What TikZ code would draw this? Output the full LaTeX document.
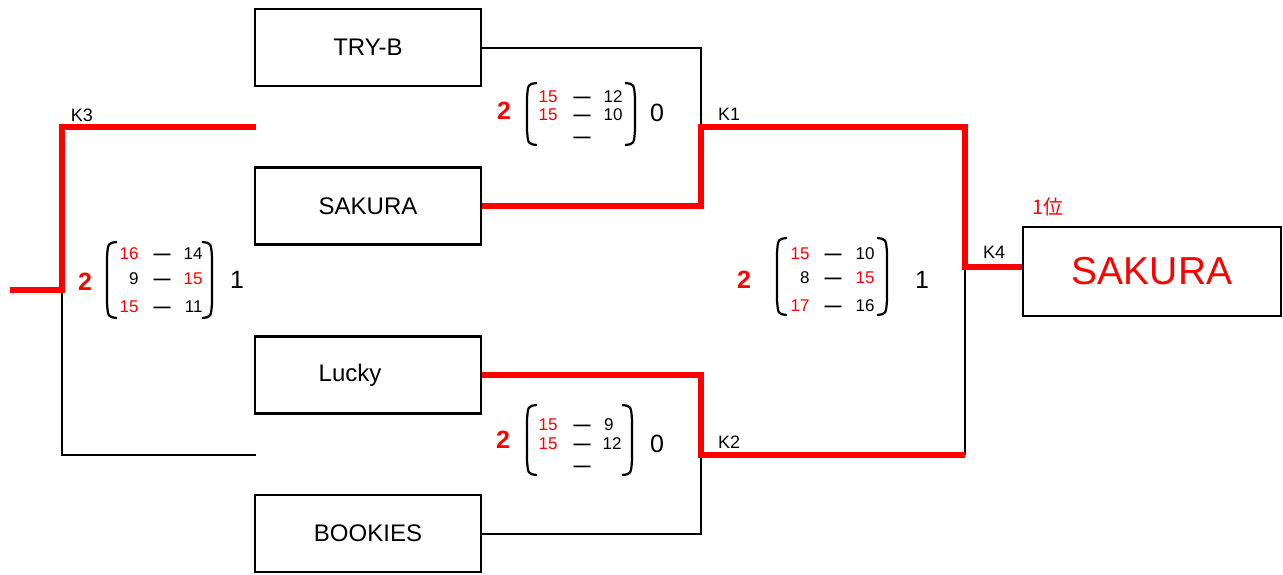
\documentclass[tikz,border=0pt]{standalone}
\usepackage{fontspec}
\setmainfont{Liberation Sans}
\newfontfamily\jpfont{Noto Sans CJK JP}
\usetikzlibrary{positioning,calc}
\definecolor{win}{RGB}{255,0,0}
% round brackets round a set score: left x, right x, top y, bottom y
\newcommand{\setparens}[4]{%
\draw[paren] (#1+10,#3) .. controls (#1+1,#3+1) .. (#1,#3+15) -- (#1,#4-15) .. controls (#1+1,#4-1) .. (#1+10,#4);
\draw[paren] (#2-10,#3) .. controls (#2-1,#3+1) .. (#2,#3+15) -- (#2,#4-15) .. controls (#2-1,#4-1) .. (#2-10,#4);}

\begin{document}
\begin{tikzpicture}[x=0.5pt, y=-0.5pt, line join=miter,
team/.style={draw, line width=1.3pt, minimum width=113pt, minimum height=38.5pt, inner sep=0pt, font=\fontsize{12}{14}\selectfont},
lose/.style={line width=1pt},
won/.style={line width=3pt, win},
paren/.style={line width=1.1pt},
pts/.style={inner sep=0pt, text height=6pt, text depth=0pt, font=\fontsize{8.5}{10}\selectfont},
wpts/.style={pts, text=win},
sets/.style={inner sep=0pt, font=\fontsize{12.5}{14}\selectfont},
setwon/.style={inner sep=0pt, text=win, font=\bfseries\fontsize{12.5}{14}\selectfont},
kname/.style={inner sep=0pt, font=\fontsize{9}{10}\selectfont}]
\useasboundingbox (0,0) rectangle (1283,574);

\node[team] (tryb) at (368,47.5) {TRY-B};
\node[team] (sakura) at (368,206) {SAKURA};
\node[team] (lucky) at (368,375) {Lucky\kern18pt};
\node[team] (bookies) at (368,533.5) {BOOKIES};
\node[team, minimum width=129pt, minimum height=44.5pt, text=win, font=\fontsize{19.5}{22}\selectfont] (first) at (1152,271.5) {SAKURA};

\coordinate (k1) at (701,127);
\coordinate (k2) at (701,455);
\coordinate (k4) at (965,267);
\coordinate (k3) at (62,290);
\coordinate (k3top) at (256,127);
\coordinate (k3bot) at (256,455);
\coordinate (k3out) at (10,290);

\draw[lose] (tryb.east) -| (k1);
\draw[lose] (bookies.east) -| (k2);
\draw[lose] (k4) -- (k4 |- k2);
\draw[lose] (k3) |- (k3bot);
\draw[won] (sakura.east) -| (k1) -| (k4) -- (k4 -| first.west);
\draw[won] (lucky.east) -| (k2) -- (k2 -| k4);
\draw[won] (k3top) -| (k3) -- (k3out);

\node[kname] (k3name) at (82,115) {K3};
\node[kname] (k1name) at (729,114) {K1};
\node[kname] (k2name) at (729,442) {K2};
\node[kname] (k4name) at (994,252) {K4};
\node[inner sep=0pt, text=win, font=\jpfont\fontsize{10}{12}\selectfont] (rank) at (1048,207) {1位};

% K1
\setparens{527}{635}{83}{145}
\node[setwon] (k1won) at (504,111) {2};
\node[sets] (k1lost) at (657,113) {0};
\node[wpts, anchor=east] (k1l1) at (558,96) {15};
\node[wpts, anchor=east] (k1l2) at (558,114) {15};
\node[pts, anchor=east] (k1r1) at (623,96) {12};
\node[pts, anchor=east] (k1r2) at (623,114) {10};
\foreach \y [count=\i] in {96,114,136}
  \node[pts] (k1d\i) at (582,\y) {\textbf{—}};

% K2
\setparens{527}{632}{405}{475}
\node[setwon] (k2won) at (503,440) {2};
\node[sets] (k2lost) at (657,444) {0};
\node[wpts, anchor=east] (k2l1) at (558,424) {15};
\node[wpts, anchor=east] (k2l2) at (558,443) {15};
\node[pts, anchor=east] (k2r1) at (614,424) {9};
\node[pts, anchor=east] (k2r2) at (622,443) {12};
\foreach \y [count=\i] in {424,443,465}
  \node[pts] (k2d\i) at (582,\y) {\textbf{—}};

% K3
\setparens{107}{212}{242}{318}
\node[setwon] (k3won) at (85,282) {2};
\node[sets] (k3lost) at (237,280) {1};
\node[wpts, anchor=east] (k3l1) at (139,253) {16};
\node[pts, anchor=east] (k3l2) at (139,278) {9};
\node[wpts, anchor=east] (k3l3) at (139,306) {15};
\node[pts, anchor=east] (k3r1) at (203,253) {14};
\node[wpts, anchor=east] (k3r2) at (203,278) {15};
\node[pts, anchor=east] (k3r3) at (203,306) {11};
\foreach \y [count=\i] in {253,278,306}
  \node[pts] (k3d\i) at (162,\y) {\textbf{—}};

% K4
\setparens{777}{887}{238}{315}
\node[setwon] (k4won) at (744,280) {2};
\node[sets] (k4lost) at (922,280) {1};
\node[wpts, anchor=east] (k4l1) at (810,253) {15};
\node[pts, anchor=east] (k4l2) at (810,277) {8};
\node[wpts, anchor=east] (k4l3) at (810,305) {17};
\node[pts, anchor=east] (k4r1) at (875,253) {10};
\node[wpts, anchor=east] (k4r2) at (875,277) {15};
\node[pts, anchor=east] (k4r3) at (875,305) {16};
\foreach \y [count=\i] in {253,277,305}
  \node[pts] (k4d\i) at (833,\y) {\textbf{—}};
\end{tikzpicture}
\end{document}
